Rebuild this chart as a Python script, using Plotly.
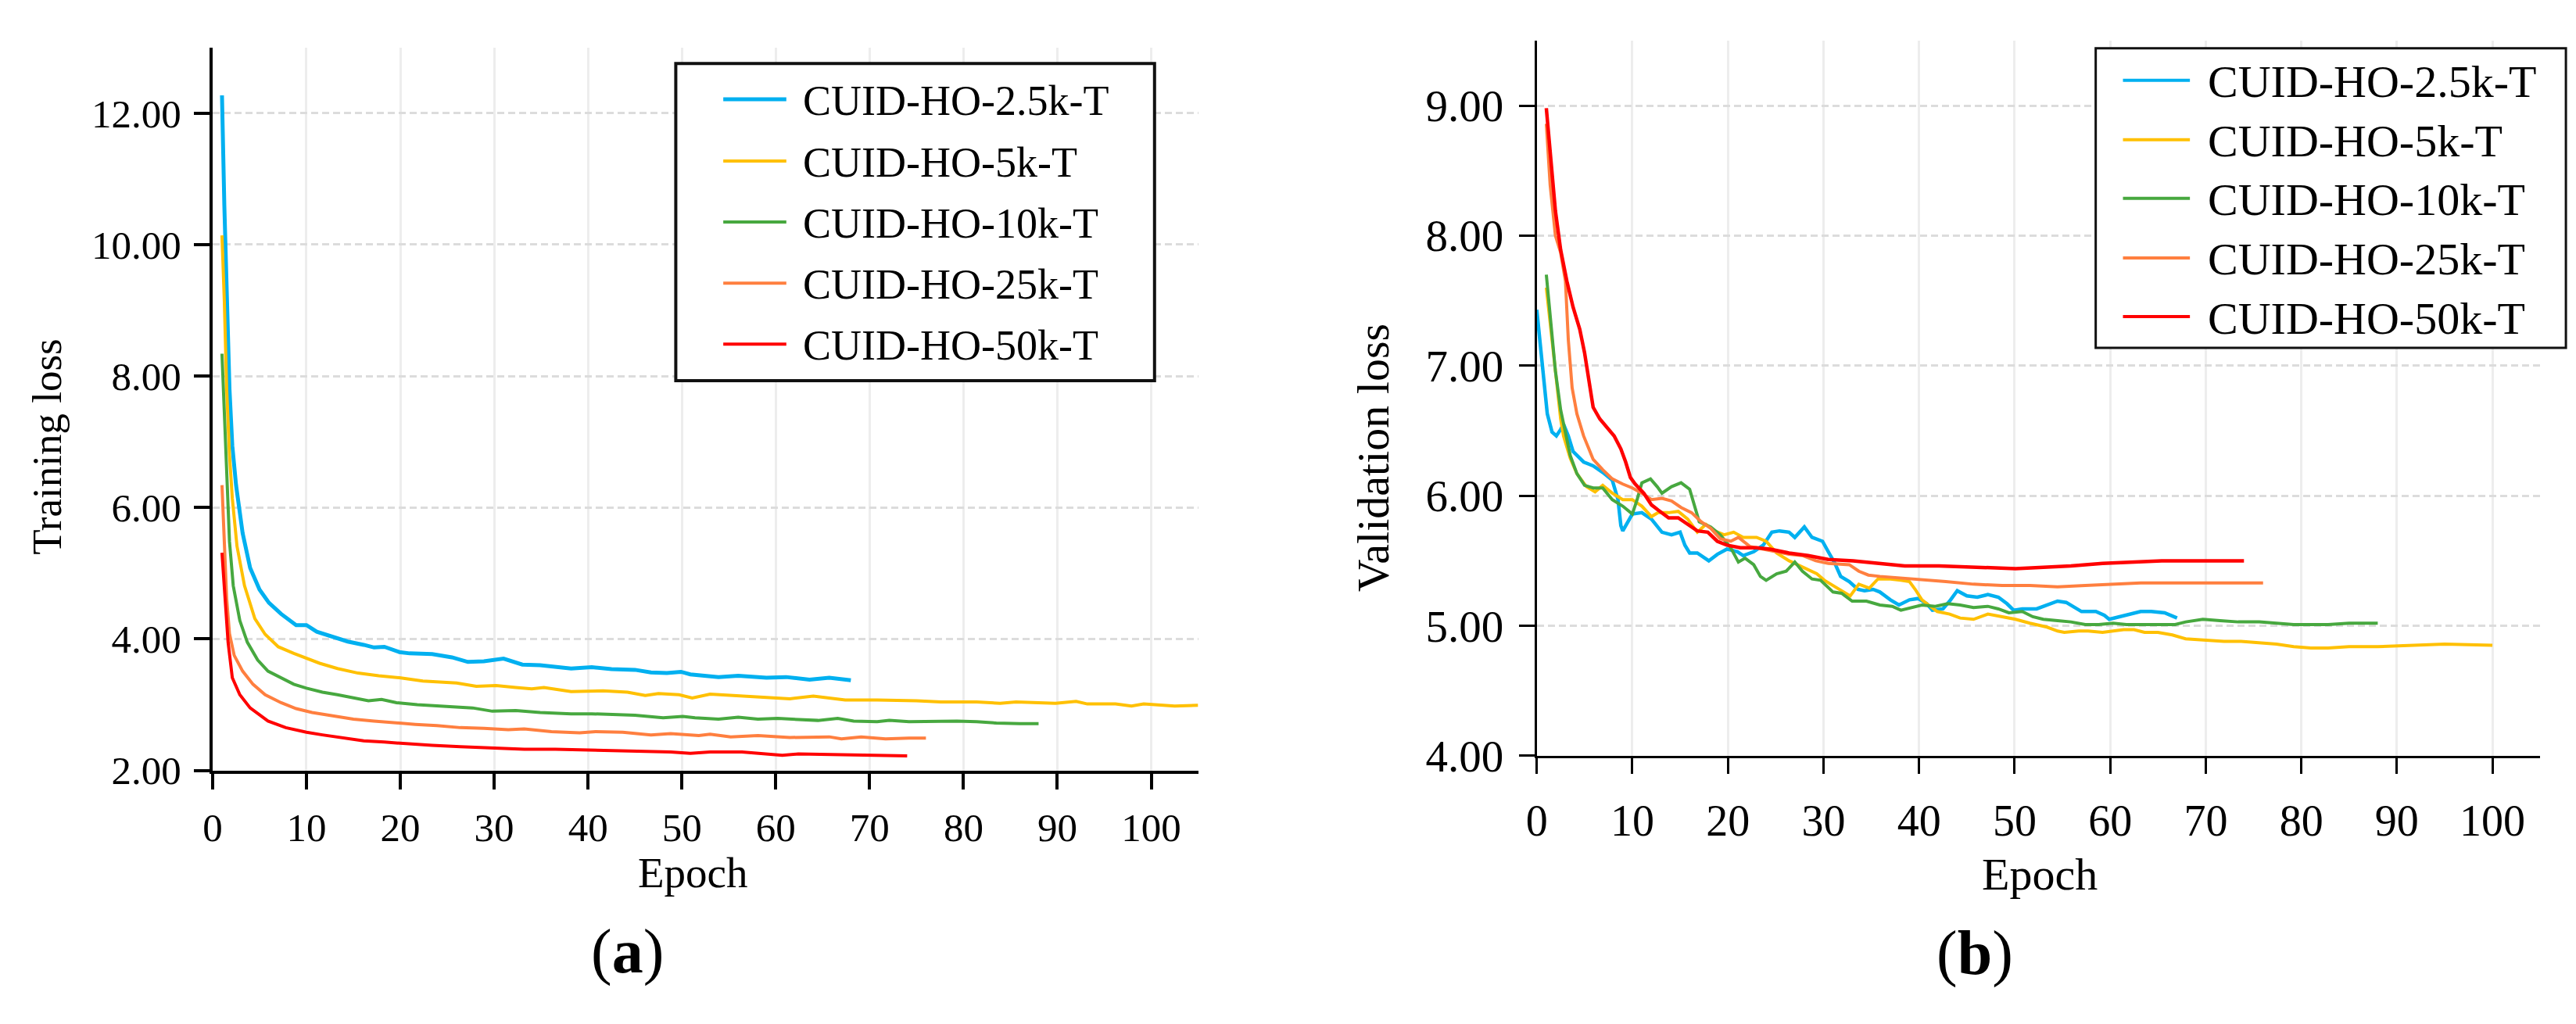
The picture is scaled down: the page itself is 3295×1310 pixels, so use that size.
####################################################################################################################
# plot.py
#
# training / validation loss curves for the CUID-HO-*-T runs, two panels side by side

####################################################################################################################
# IMPORTS
import plotly.graph_objects as go

####################################################################################################################
# DATA

names = ['CUID-HO-2.5k-T', 'CUID-HO-5k-T', 'CUID-HO-10k-T', 'CUID-HO-25k-T', 'CUID-HO-50k-T']
colors = ['#00B0F0', '#FFC000', '#47A83F', '#FF7F3F', '#FF0000']

x_ticks = [0, 10, 20, 30, 40, 50, 60, 70, 80, 90, 100]
train_ticks = [2, 4, 6, 8, 10, 12]
val_ticks = [4, 5, 6, 7, 8, 9]

# (a) training loss
tr_ep_2_5k = [1, 1.25, 1.8, 2.1, 2.5, 3.2, 4, 5, 6, 7.3, 8.9, 10, 11.1, 12.8, 14.4, 16.1, 17.2, 18.3, 19.9, 21,
              23.4, 25.5, 27.2, 28.9, 31, 33, 34.9, 38.2, 40.4, 42.5, 45, 46.7, 48.4, 49.9, 50.9, 53.9, 56, 59,
              61.1, 63.6, 65.7, 68]
tr_2_5k = [12.27, 10.6, 7.8, 6.94, 6.34, 5.61, 5.08, 4.75, 4.55, 4.38, 4.21, 4.21, 4.11, 4.03, 3.96, 3.91, 3.87,
           3.88, 3.80, 3.78, 3.77, 3.72, 3.65, 3.66, 3.70, 3.61, 3.60, 3.55, 3.57, 3.54, 3.53, 3.49, 3.48, 3.50,
           3.46, 3.42, 3.44, 3.41, 3.42, 3.38, 3.41, 3.37]

tr_ep_5k = [1, 1.25, 1.5, 1.8, 2.1, 2.6, 3.4, 4.5, 5.6, 7, 8.65, 10, 11.4, 13.3, 15.5, 17.7, 19.9, 22.4, 23.9, 26,
            28.1, 30.2, 32.3, 34, 35.3, 38.2, 41.6, 44.2, 46.1, 47.5, 49.7, 51.1, 53, 57.3, 61.5, 64, 67.4, 70.8,
            75, 77.6, 81.4, 83.9, 85.6, 89.8, 92, 93.2, 96.2, 97.9, 99.2, 102.5, 105]
tr_5k = [10.14, 9.14, 7.8, 6.8, 6.14, 5.41, 4.81, 4.31, 4.07, 3.88, 3.78, 3.71, 3.63, 3.55, 3.48, 3.44, 3.41, 3.36,
         3.35, 3.33, 3.28, 3.29, 3.26, 3.24, 3.26, 3.20, 3.21, 3.19, 3.14, 3.17, 3.15, 3.10, 3.16, 3.12, 3.09,
         3.13, 3.07, 3.07, 3.06, 3.04, 3.04, 3.02, 3.04, 3.02, 3.05, 3.01, 3.01, 2.98, 3.01, 2.98, 2.99]

tr_ep_10k = [1, 1.25, 1.5, 1.8, 2.2, 2.9, 3.7, 4.8, 5.9, 7.3, 8.65, 10, 11.7, 13.3, 15.5, 16.6, 18, 19.6, 21.8,
             23.8, 25.1, 27.7, 29.8, 32.3, 34.9, 38.2, 40.4, 42.5, 45, 48, 50.1, 51.4, 53.9, 56, 58.1, 60.2, 62.4,
             64.5, 66.6, 68.3, 70.8, 72.1, 74.2, 76.7, 79.3, 81.4, 83.5, 86, 88]
tr_10k = [8.34, 7.47, 6.48, 5.48, 4.81, 4.28, 3.95, 3.68, 3.51, 3.41, 3.31, 3.25, 3.19, 3.15, 3.09, 3.06, 3.08,
          3.03, 3.00, 2.98, 2.97, 2.95, 2.90, 2.91, 2.88, 2.86, 2.86, 2.85, 2.84, 2.80, 2.82, 2.80, 2.78, 2.81,
          2.78, 2.79, 2.77, 2.76, 2.79, 2.75, 2.74, 2.76, 2.74, 2.75, 2.75, 2.74, 2.72, 2.71, 2.71]

tr_ep_25k = [1, 1.25, 1.5, 1.8, 2.3, 3.2, 4.3, 5.6, 7.3, 8.9, 10.6, 12.8, 15, 17.2, 19.4, 21.6, 23.9, 26.4, 28.9,
             31.5, 33.2, 36.1, 39.1, 40.8, 43.7, 46.7, 48.8, 51.8, 53, 55.2, 58.1, 61.5, 65.7, 67, 69.1, 71.7, 74.2, 76]
tr_25k = [6.34, 5.48, 4.61, 4.08, 3.75, 3.51, 3.31, 3.15, 3.03, 2.94, 2.88, 2.83, 2.78, 2.75, 2.72, 2.70, 2.68,
          2.65, 2.64, 2.62, 2.63, 2.59, 2.57, 2.59, 2.58, 2.54, 2.56, 2.53, 2.55, 2.51, 2.53, 2.50, 2.51, 2.48,
          2.51, 2.48, 2.49, 2.49]

tr_ep_50k = [1, 1.25, 1.65, 2.1, 2.9, 4, 5.9, 7.8, 10, 11.7, 13.9, 16.1, 18.3, 21, 23.4, 26.4, 29.8, 33.2, 36.5,
             39.1, 42.5, 45.9, 48.8, 50.9, 53, 56.4, 60.7, 62.4, 65.7, 67.9, 70.8, 74]
tr_50k = [5.31, 4.81, 3.95, 3.41, 3.15, 2.95, 2.75, 2.65, 2.58, 2.54, 2.49, 2.45, 2.43, 2.40, 2.38, 2.36, 2.34,
          2.32, 2.32, 2.31, 2.30, 2.29, 2.28, 2.26, 2.28, 2.28, 2.23, 2.25, 2.24, 2.23, 2.22, 2.22]

# (b) validation loss
va_ep_2_5k = [0, 0.6, 1.1, 1.6, 2.05, 2.5, 2.8, 3.3, 3.8, 4.9, 5.9, 6.9, 7.9, 8.5, 8.8, 9.0, 9.5, 10, 11, 12, 13.1,
              14.1, 15, 15.5, 16, 16.8, 18, 18.9, 19.9, 21, 21.6, 22.7, 23.7, 24.6, 25.4, 26.4, 27, 28, 28.8, 29.9,
              30.5, 31.2, 31.8, 32.7, 33.6, 34.3, 35.2, 35.9, 37, 37.9, 39, 39.9, 40.8, 41.4, 42.5, 43.2, 44, 45,
              46.1, 47.2, 48.3, 49.2, 49.9, 50.8, 52.3, 53.4, 54.5, 55.4, 56.3, 57, 58.5, 59.4, 59.9, 61, 62.1,
              63.2, 64.3, 65.7, 67]
va_2_5k = [7.43, 6.96, 6.63, 6.49, 6.46, 6.51, 6.55, 6.46, 6.34, 6.26, 6.23, 6.18, 6.12, 5.97, 5.77, 5.73, 5.80,
           5.86, 5.87, 5.82, 5.72, 5.70, 5.72, 5.62, 5.56, 5.56, 5.50, 5.55, 5.59, 5.57, 5.54, 5.57, 5.62, 5.72,
           5.73, 5.72, 5.68, 5.76, 5.68, 5.65, 5.57, 5.48, 5.38, 5.34, 5.28, 5.27, 5.28, 5.26, 5.20, 5.16, 5.20,
           5.21, 5.17, 5.12, 5.13, 5.19, 5.27, 5.23, 5.22, 5.24, 5.22, 5.17, 5.12, 5.13, 5.13, 5.16, 5.19, 5.18,
           5.14, 5.11, 5.11, 5.08, 5.05, 5.07, 5.09, 5.11, 5.11, 5.10, 5.06]

va_ep_5k = [1, 1.4, 1.95, 2.5, 2.8, 3.5, 4.2, 5.2, 6.1, 6.9, 7.9, 9, 10, 11, 12, 12.7, 13.8, 14.8, 15.8, 16.8,
            17.7, 18.6, 19.6, 20.6, 21.6, 23, 24, 25.1, 26.4, 27.8, 29.3, 30.1, 31, 31.9, 32.8, 33.7, 34.8, 35.7,
            37, 38.1, 39, 39.6, 40.3, 41, 41.9, 43.2, 44.3, 45.7, 46.5, 47.2, 48.7, 50.1, 51.6, 53.4, 54.5, 55.2,
            56.7, 57.7, 59.2, 60.3, 61.4, 62.5, 63.6, 65, 66.5, 67.9, 69.7, 71.9, 73.7, 75.6, 77.4, 79.2, 81,
            82.8, 85, 88, 91.6, 95, 100]
va_5k = [7.6, 7.33, 6.96, 6.59, 6.46, 6.29, 6.17, 6.07, 6.03, 6.08, 6.02, 5.97, 5.97, 5.92, 5.84, 5.87, 5.87, 5.88,
         5.82, 5.72, 5.78, 5.73, 5.70, 5.72, 5.68, 5.68, 5.65, 5.56, 5.50, 5.45, 5.40, 5.35, 5.31, 5.27, 5.23,
         5.32, 5.29, 5.36, 5.36, 5.35, 5.34, 5.28, 5.20, 5.16, 5.11, 5.09, 5.06, 5.05, 5.07, 5.09, 5.07, 5.05,
         5.02, 4.99, 4.96, 4.95, 4.96, 4.96, 4.95, 4.96, 4.97, 4.97, 4.95, 4.95, 4.93, 4.90, 4.89, 4.88, 4.88,
         4.87, 4.86, 4.84, 4.83, 4.83, 4.84, 4.84, 4.85, 4.86, 4.85]

va_ep_10k = [1, 1.4, 1.95, 2.5, 3, 3.5, 4.2, 5, 5.9, 6.9, 7.9, 9, 10, 10.5, 11, 11.9, 12.6, 13.1, 14.1, 15.1, 16,
             16.5, 17, 18.2, 19.2, 20.3, 21.1, 21.8, 22.7, 23.4, 24, 25.1, 26.1, 27, 27.8, 28.8, 29.7, 31, 31.9,
             33, 34.5, 35.9, 37.2, 38.1, 39.2, 40.3, 41.7, 43, 44.3, 45.7, 47.2, 48.3, 49.4, 50.8, 51.9, 53, 54.5,
             55.9, 57.4, 58.8, 60.3, 61.7, 63.6, 65.4, 66.8, 67.9, 69.7, 71.5, 73.4, 75.6, 77.4, 79.2, 81, 82.8,
             85, 88]
va_10k = [7.70, 7.40, 6.96, 6.66, 6.49, 6.31, 6.17, 6.08, 6.06, 6.06, 5.97, 5.92, 5.86, 5.97, 6.10, 6.13, 6.07,
          6.02, 6.07, 6.10, 6.05, 5.92, 5.80, 5.76, 5.70, 5.60, 5.49, 5.52, 5.47, 5.38, 5.35, 5.40, 5.42, 5.49,
          5.42, 5.36, 5.35, 5.26, 5.25, 5.19, 5.19, 5.16, 5.15, 5.12, 5.14, 5.16, 5.15, 5.17, 5.16, 5.14, 5.15,
          5.13, 5.10, 5.11, 5.07, 5.05, 5.04, 5.03, 5.01, 5.01, 5.02, 5.01, 5.01, 5.01, 5.01, 5.03, 5.05, 5.04,
          5.03, 5.03, 5.02, 5.01, 5.01, 5.01, 5.02, 5.02]

va_ep_25k = [1, 1.4, 1.95, 2.5, 3, 3.3, 3.7, 4.2, 4.9, 5.9, 6.9, 7.9, 9, 10, 11, 12, 13.1, 14.1, 15.1, 16.2, 17.2,
             18.2, 19.2, 20.3, 21.1, 22.3, 23.7, 25.1, 26.4, 27.8, 29.2, 30.5, 32.7, 33.7, 34.7, 35.9, 37.7, 39.9,
             42.8, 45.7, 48.7, 51.6, 54.5, 57.4, 60.3, 63.2, 66.1, 69, 71.9, 74.1, 76]
va_25k = [8.86, 8.39, 8.0, 7.87, 7.65, 7.2, 6.83, 6.63, 6.46, 6.28, 6.20, 6.13, 6.09, 6.06, 6.02, 5.97, 5.98, 5.96,
          5.91, 5.87, 5.80, 5.75, 5.67, 5.65, 5.68, 5.61, 5.59, 5.57, 5.55, 5.54, 5.50, 5.48, 5.47, 5.42, 5.39,
          5.38, 5.37, 5.36, 5.34, 5.32, 5.31, 5.31, 5.30, 5.31, 5.32, 5.33, 5.33, 5.33, 5.33, 5.33, 5.33]

va_ep_50k = [1, 1.4, 1.95, 2.5, 3.15, 3.8, 4.5, 5, 5.4, 5.9, 6.6, 7.4, 8.1, 8.8, 9.3, 9.8, 10.3, 11.2, 12, 12.7,
             13.8, 14.8, 15.8, 16.8, 17.9, 18.9, 19.9, 21.3, 23, 24.4, 26.4, 28.4, 30.5, 33.1, 35.8, 38.5, 42.1,
             45.4, 47.9, 50.1, 53, 55.9, 59.2, 62.5, 65.4, 68.3, 71.2, 74]
va_50k = [8.98, 8.63, 8.19, 7.89, 7.65, 7.45, 7.28, 7.10, 6.90, 6.68, 6.59, 6.52, 6.46, 6.36, 6.26, 6.14, 6.09,
          6.02, 5.93, 5.89, 5.83, 5.83, 5.78, 5.73, 5.72, 5.65, 5.62, 5.60, 5.60, 5.59, 5.56, 5.54, 5.51, 5.50,
          5.48, 5.46, 5.46, 5.45, 5.44, 5.44, 5.45, 5.46, 5.48, 5.49, 5.50, 5.50, 5.50, 5.50]

train_sets = [(tr_ep_2_5k, tr_2_5k), (tr_ep_5k, tr_5k), (tr_ep_10k, tr_10k), (tr_ep_25k, tr_25k), (tr_ep_50k, tr_50k)]
val_sets = [(va_ep_2_5k, va_2_5k), (va_ep_5k, va_5k), (va_ep_10k, va_10k), (va_ep_25k, va_25k), (va_ep_50k, va_50k)]

####################################################################################################################
# FUNCTIONS

W, H = 3295, 1310
FONT = 'Liberation Serif'


# pixel position -> paper fraction
def fx(px):
    return px / W


def fy(py):
    return 1 - py / H


#####################################################
#   axis_style(...) - shared look of the axes (black line, outside ticks, light grid)
#
def axis_style(domain, rng, tickvals, fmt, size, lw, standoff, dashed):
    return dict(domain=domain, range=rng, tickvals=tickvals, tickformat=fmt,
                ticks='outside', ticklen=20, tickwidth=lw, tickcolor='black',
                showline=True, linewidth=lw, linecolor='black', zeroline=False,
                showgrid=True, gridwidth=3,
                gridcolor='#dcdcdc' if dashed else '#ededed',
                griddash='9px,5px' if dashed else 'solid',
                tickfont=dict(family=FONT, size=size, color='black'),
                ticklabelstandoff=standoff, fixedrange=True)


#####################################################
#   add_legend(fig, ...) - boxed legend with long line samples, drawn in paper space
#
def add_legend(fig, box, rows, line_x, text_x, size, bw, widths):
    fig.add_shape(type='rect', xref='paper', yref='paper',
                  x0=fx(box[0]), x1=fx(box[2]), y0=fy(box[3]), y1=fy(box[1]),
                  line=dict(color='#111111', width=bw), fillcolor='white', layer='above')
    for name, color, row, w in zip(names, colors, rows, widths):
        fig.add_shape(type='line', xref='paper', yref='paper',
                      x0=fx(line_x[0]), x1=fx(line_x[1]), y0=fy(row), y1=fy(row),
                      line=dict(color=color, width=w), layer='above')
        fig.add_annotation(text=name, xref='paper', yref='paper', x=fx(text_x), y=fy(row + 2),
                           xanchor='left', yanchor='middle', showarrow=False,
                           font=dict(family=FONT, size=size, color='black'))


def label(fig, text, x, y, size, angle=0):
    fig.add_annotation(text=text, xref='paper', yref='paper', x=fx(x), y=fy(y),
                       xanchor='center', yanchor='middle', showarrow=False, textangle=angle,
                       font=dict(family=FONT, size=size, color='black'))


####################################################################################################################
# SCRIPT

fig = go.Figure()

for (ep, v), name, color in zip(train_sets, names, colors):
    fig.add_trace(go.Scatter(x=ep, y=v, mode='lines', name=name, xaxis='x', yaxis='y',
                             line=dict(color=color, width=5 if name == names[0] else 4)))

for (ep, v), name, color in zip(val_sets, names, colors):
    fig.add_trace(go.Scatter(x=ep, y=v, mode='lines', name=name, xaxis='x2', yaxis='y2',
                             line=dict(color=color, width=4.5 if name in (names[0], names[4]) else 4)))

fig.update_layout(
    width=W, height=H, margin=dict(l=0, r=0, t=0, b=0),
    paper_bgcolor='white', plot_bgcolor='white', showlegend=False,
    xaxis=axis_style([fx(251), fx(1517)], [0, 105], x_ticks, 'd', 51, 4, 5, False) | dict(anchor='y'),
    yaxis=axis_style([fy(1002), fy(54)], [2, 13], train_ticks, '.2f', 51, 4, 6, True) | dict(anchor='x'),
    xaxis2=axis_style([fx(1952), fx(3241)], [0, 105], x_ticks, 'd', 56, 3, 12, False) | dict(anchor='y2'),
    yaxis2=axis_style([fy(983), fy(45)], [4, 9.5], val_ticks, '.2f', 57, 3, 8, True) | dict(anchor='x2'),
)

# legends
add_legend(fig, (846, 75, 1461, 491), [122, 203, 283, 363, 443], (907, 988), 1007, 54, 4, [5, 4, 4, 4, 4])
add_legend(fig, (2670, 55, 3274, 448), [97, 175, 252, 330, 407], (2705, 2791), 2812, 58, 3, [4, 4, 4, 4, 4])

# axis titles and panel labels
label(fig, 'Epoch', 868, 1136, 55)
label(fig, 'Training loss', 38, 578, 53, -90)
label(fig, '(<b>a</b>)', 784, 1240, 80)
label(fig, 'Epoch', 2598, 1138, 58)
label(fig, 'Validation loss', 1742, 592, 58, -90)
label(fig, '(<b>b</b>)', 2515, 1242, 80)

fig.write_html('out.html')
